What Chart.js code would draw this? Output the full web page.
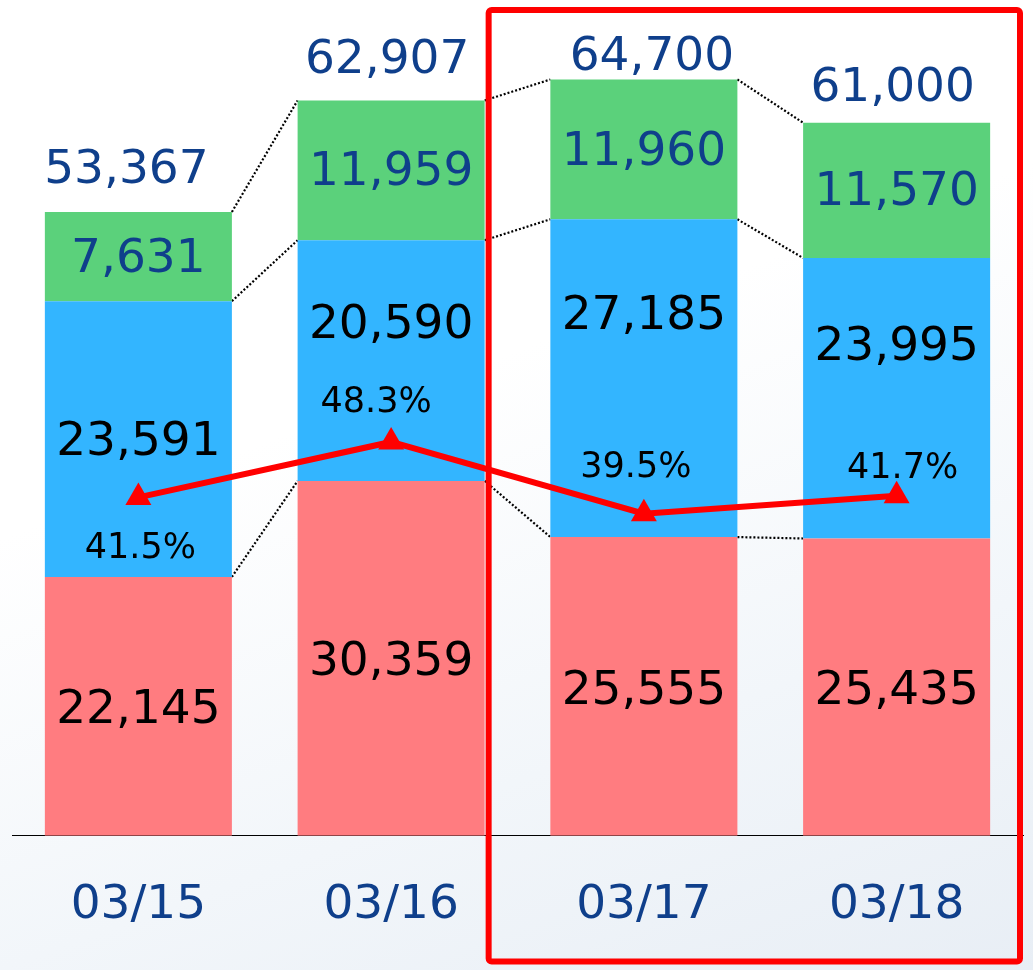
<!DOCTYPE html>
<html>
<head>
<meta charset="utf-8">
<script src="https://cdn.jsdelivr.net/npm/chart.js"></script>
<style>
  html, body { margin: 0; padding: 0; }
  body {
    width: 1033px;
    height: 970px;
    overflow: hidden;
    background: linear-gradient(160deg, #ffffff 40%, #f2f6fa 72%, #e8eef5 100%);
  }
  canvas { display: block; }
</style>
</head>
<body>
<canvas id="chart" width="1033" height="970"></canvas>
<script>
  // data
  const days = ['03/15', '03/16', '03/17', '03/18'];
  const redValues = [22145, 30359, 25555, 25435];
  const blueValues = [23591, 20590, 27185, 23995];
  const greenValues = [7631, 11959, 11960, 11570];
  const totals = [53367, 62907, 64700, 61000];
  const ratios = [41.5, 48.3, 39.5, 41.7];

  // label nudges (px), kept apart from the data
  const blueShiftY = [-1, -40, -66, -55];
  const totalShiftX = [-12, -4, 8, -4];
  const totalShiftY = [-46, -45, -27, -39];
  const ratioShiftX = [2, -15, -8, 6];
  const ratioShiftY = [48, -43, -49, -31];

  const FONT = 'DejaVu Sans';
  const NAVY = '#0F3F8B';

  const fmt = v => v.toLocaleString('en-US');

  // draw text so that the digits are centred vertically on y
  function centerText(ctx, text, x, y, size, color) {
    ctx.font = size + 'px "' + FONT + '"';
    ctx.fillStyle = color;
    ctx.textAlign = 'center';
    ctx.textBaseline = 'alphabetic';
    ctx.fillText(text, x, y + size * 0.3645);
  }

  const overlay = {
    id: 'overlay',
    beforeDatasetsDraw(chart) {
      // dotted connectors between neighbouring bars
      const ctx = chart.ctx;
      ctx.save();
      ctx.strokeStyle = '#000';
      ctx.lineWidth = 2.2;
      ctx.setLineDash([2, 2]);
      [0, 1, 2].forEach(d => {
        const bars = chart.getDatasetMeta(d).data;
        for (let i = 0; i < bars.length - 1; i++) {
          const a = bars[i], b = bars[i + 1];
          ctx.beginPath();
          ctx.moveTo(a.x + a.width / 2, a.y);
          ctx.lineTo(b.x - b.width / 2, b.y);
          ctx.stroke();
        }
      });
      ctx.restore();
    },
    afterDatasetsDraw(chart) {
      const ctx = chart.ctx;
      ctx.save();
      const red = chart.getDatasetMeta(0).data;
      const blue = chart.getDatasetMeta(1).data;
      const green = chart.getDatasetMeta(2).data;
      const line = chart.getDatasetMeta(3).data;
      red.forEach((el, i) => {
        centerText(ctx, fmt(redValues[i]), el.x, (el.y + el.base) / 2, 47, '#000');
      });
      blue.forEach((el, i) => {
        centerText(ctx, fmt(blueValues[i]), el.x, (el.y + el.base) / 2 + blueShiftY[i], 47, '#000');
      });
      green.forEach((el, i) => {
        centerText(ctx, fmt(greenValues[i]), el.x, (el.y + el.base) / 2 - 2, 47, NAVY);
        centerText(ctx, fmt(totals[i]), el.x + totalShiftX[i], el.y + totalShiftY[i], 47, NAVY);
      });
      line.forEach((pt, i) => {
        centerText(ctx, ratios[i].toFixed(1) + '%', pt.x + ratioShiftX[i], pt.y + ratioShiftY[i], 35, '#000');
      });
      ctx.restore();
    },
    afterDraw(chart) {
      // red highlight frame round the last two days
      const ctx = chart.ctx;
      const b = chart.getDatasetMeta(0).data[1];
      const left = b.x + b.width / 2 + 4;
      const right = chart.chartArea.right - 3;
      const top = 10;
      const bottom = chart.height - 8.5;
      ctx.save();
      ctx.strokeStyle = '#ff0000';
      ctx.lineWidth = 6;
      ctx.lineJoin = 'round';
      ctx.beginPath();
      ctx.roundRect(left, top, right - left, bottom - top, 3);
      ctx.stroke();
      ctx.restore();
    }
  };

  const barCommon = {
    barPercentage: 0.74,
    categoryPercentage: 1.0,
    borderWidth: 0,
    order: 1
  };

  new Chart(document.getElementById('chart'), {
    type: 'bar',
    data: {
      labels: days,
      datasets: [
        Object.assign({ label: 'red', data: redValues, backgroundColor: '#FF7C80' }, barCommon),
        Object.assign({ label: 'blue', data: blueValues, backgroundColor: '#33B5FF' }, barCommon),
        Object.assign({ label: 'green', data: greenValues, backgroundColor: '#5BD17B' }, barCommon),
        {
          type: 'line',
          label: 'ratio',
          data: ratios,
          yAxisID: 'y1',
          order: 0,
          borderColor: '#FF0000',
          borderWidth: 6,
          tension: 0,
          pointStyle: 'triangle',
          pointRadius: 15,
          pointBackgroundColor: '#FF0000',
          pointBorderWidth: 0
        }
      ]
    },
    options: {
      responsive: false,
      animation: false,
      events: [],
      layout: { autoPadding: false, padding: { left: 12, right: 10, top: 0, bottom: -6 } },
      plugins: {
        legend: { display: false },
        tooltip: { enabled: false }
      },
      scales: {
        x: {
          stacked: true,
          grid: { display: false, drawTicks: false },
          border: { display: true, color: '#000', width: 1 },
          ticks: {
            color: NAVY,
            padding: 56,
            font: { family: FONT, size: 47, lineHeight: 0.6 }
          }
        },
        y: { stacked: true, display: false, min: 0, max: 71500 },
        y1: { display: false, position: 'right', min: 0, max: 102.5 }
      }
    },
    plugins: [overlay]
  });
</script>
</body>
</html>
